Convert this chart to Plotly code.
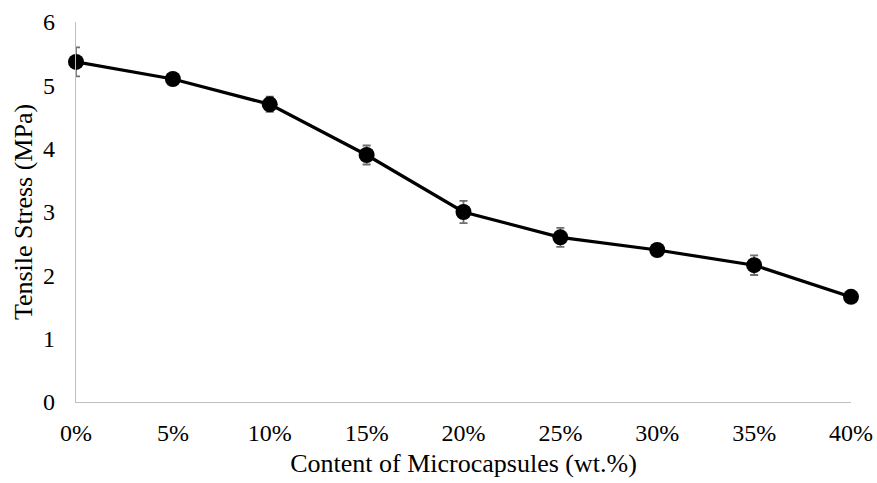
import plotly.graph_objects as go

categories = ["0%", "5%", "10%", "15%", "20%", "25%", "30%", "35%", "40%"]
stress = [5.37, 5.10, 4.70, 3.90, 3.00, 2.60, 2.40, 2.16, 1.66]
errors = [0.23, 0.05, 0.12, 0.15, 0.175, 0.15, 0.06, 0.155, 0.04]
y_ticks = [0, 1, 2, 3, 4, 5, 6]

font_family = "Liberation Serif, Times New Roman, serif"

fig = go.Figure()
fig.add_trace(go.Scatter(
    x=categories, y=stress,
    mode="lines+markers",
    line=dict(color="black", width=3.2),
    marker=dict(color="black", size=16),
    error_y=dict(type="data", array=errors, visible=True, color="#6f6f6f", thickness=1.8, width=4),
    cliponaxis=False,
    showlegend=False,
))

fig.update_layout(
    width=877, height=483,
    margin=dict(l=76, r=26, t=22, b=81),
    paper_bgcolor="white", plot_bgcolor="white",
    font=dict(family=font_family, size=24, color="#000000"),
    xaxis=dict(
        type="category", range=[0, 8], automargin=False,
        showline=True, linecolor="#bfbfbf", linewidth=1.3,
        showgrid=False, zeroline=False, ticks="",
        ticklabelstandoff=9,
        title=dict(text="Content of Microcapsules (wt.%)", font=dict(size=26), standoff=8),
    ),
    yaxis=dict(
        range=[0, 6], tickvals=y_ticks, automargin=False,
        showline=True, linecolor="#bfbfbf", linewidth=1.3,
        showgrid=False, zeroline=False, ticks="",
        ticklabelstandoff=15,
        title=dict(text="Tensile Stress (MPa)", font=dict(size=26), standoff=2),
    ),
)

fig.write_html("out.html")
